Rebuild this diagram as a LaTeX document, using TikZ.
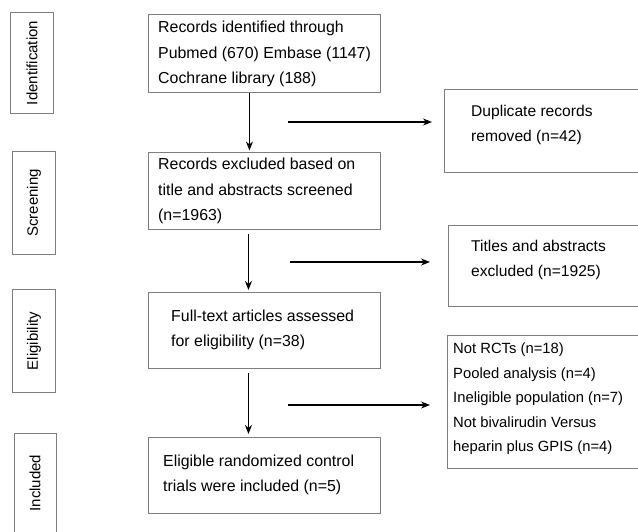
\documentclass[tikz,border=0pt]{standalone}
\usepackage{fontspec}
\setmainfont{Liberation Sans}
\usetikzlibrary{arrows.meta}
\definecolor{boxgray}{RGB}{125,125,125}
\begin{document}
\begin{tikzpicture}[x=1pt,y=-1pt,
  box/.style={draw=boxgray, line width=0.9pt, inner sep=0pt, anchor=north west},
  txt/.style={inner sep=0pt, anchor=west, align=left, font=\fontsize{15.9}{25.5}\selectfont},
  lab/.style={inner sep=0pt, rotate=90, font=\fontsize{15}{18}\selectfont},
  arr/.style={draw=black, line width=1.2pt, -{Stealth[length=9pt,width=7pt]}}]
\useasboundingbox (0,0) rectangle (638,531);
\begin{scope}
\clip (0,0) rectangle (638,531);
% stage labels
\node[box, minimum width=43, minimum height=101] (idbox) at (10,12) {};
\node[lab] (idT) at (idbox.center) {Identification};
\node[box, minimum width=43, minimum height=103] (scbox) at (12,151) {};
\node[lab] (scT) at (scbox.center) {Screening};
\node[box, minimum width=43, minimum height=103] (elbox) at (12,289) {};
\node[lab] (elT) at (elbox.center) {Eligibility};
\node[box, minimum width=42, minimum height=110] (inbox) at (14,433) {};
\node[lab] (inT) at (35,483) {Included};
% main boxes
\node[box, minimum width=232, minimum height=78] (b1) at (148,14) {};
\node[txt] (b1T) at (158,54) {Records identified through\\Pubmed (670) Embase (1147)\\Cochrane library (188)};
\node[box, minimum width=232, minimum height=77] (b2) at (148,152) {};
\node[txt] (b2T) at (158,191) {Records excluded based on\\title and abstracts screened\\(n=1963)};
\node[box, minimum width=232, minimum height=76] (b3) at (148,292) {};
\node[txt] (b3T) at (171,330) {Full-text articles assessed\\for eligibility (n=38)};
\node[box, minimum width=232, minimum height=76] (b4) at (148,437) {};
\node[txt] (b4T) at (163,475) {Eligible randomized control\\trials were included (n=5)};
% side boxes
\node[box, minimum width=220, minimum height=83] (r1) at (444,89) {};
\node[txt, font=\fontsize{15.6}{25.5}\selectfont] (r1T) at (471,125) {Duplicate records\\removed (n=42)};
\node[box, minimum width=220, minimum height=81] (r2) at (448,225) {};
\node[txt, font=\fontsize{15.6}{25.5}\selectfont] (r2T) at (471,260) {Titles and abstracts\\excluded (n=1925)};
\node[box, minimum width=220, minimum height=133] (r3) at (447,335) {};
\node[txt, font=\fontsize{14.8}{24.5}\selectfont] (r3T) at (453,399) {Not RCTs (n=18)\\Pooled analysis (n=4)\\Ineligible population (n=7)\\Not bivalirudin Versus\\heparin plus GPIS (n=4)};
% vertical arrows
\draw[arr, shorten >=1.5pt] ([xshift=-15pt]b1.south) -- ([xshift=-15pt]b2.north);
\draw[arr, shorten <=4pt, shorten >=2pt] ([xshift=-16pt]b2.south) -- ([xshift=-16pt]b3.north);
\draw[arr, shorten <=4pt, shorten >=3pt] ([xshift=-16pt]b3.south) -- ([xshift=-16pt]b4.north);
% horizontal arrows
\coordinate (h1a) at (288,122); \coordinate (h1b) at (432,122);
\coordinate (h2a) at (290,262); \coordinate (h2b) at (430,262);
\coordinate (h3a) at (288,405); \coordinate (h3b) at (430,405);
\draw[arr] (h1a) -- (h1b);
\draw[arr] (h2a) -- (h2b);
\draw[arr] (h3a) -- (h3b);
\end{scope}
\end{tikzpicture}
\end{document}
